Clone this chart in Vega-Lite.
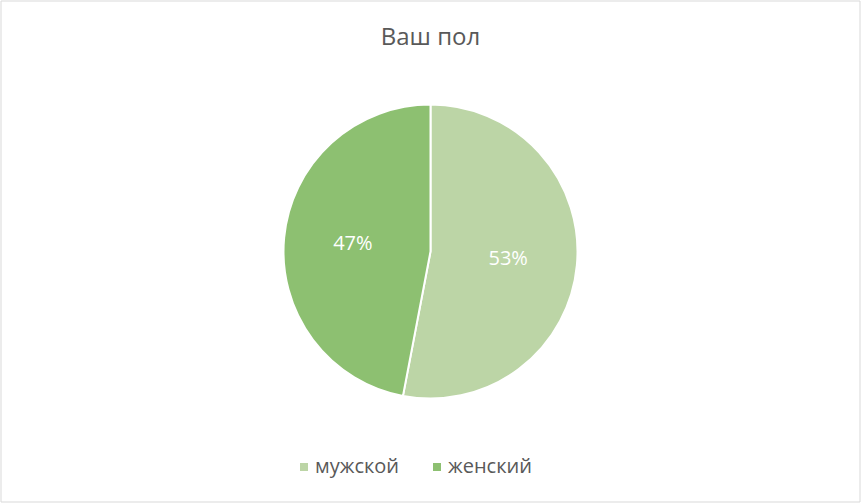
{
  "$schema": "https://vega.github.io/schema/vega-lite/v6.json",
  "width": 861,
  "height": 503,
  "padding": 0,
  "autosize": {"type": "fit", "contains": "padding"},
  "background": "white",
  "title": {
    "text": "Ваш пол",
    "orient": "top",
    "anchor": "middle",
    "offset": -46,
    "dy": 22,
    "baseline": "alphabetic",
    "fontSize": 24,
    "font": "Open Sans",
    "fontWeight": "normal",
    "color": "#595959"
  },
  "data": {
    "values": [
      {"sex": "мужской", "pct": 53, "label": "53%"},
      {"sex": "женский", "pct": 47, "label": "47%"}
    ]
  },
  "layer": [
    {
      "data": {"values": [{}]},
      "mark": {"type": "rect", "fill": null, "stroke": "#d9d9d9", "strokeWidth": 1},
      "encoding": {}
    },
    {
      "mark": {"type": "arc", "outerRadius": 147, "stroke": "white", "strokeWidth": 2},
      "encoding": {
        "theta": {"field": "pct", "type": "quantitative", "stack": true},
        "order": {"field": "pct", "sort": "descending"},
        "color": {
          "field": "sex",
          "type": "nominal",
          "sort": ["мужской", "женский"],
          "scale": {"domain": ["мужской", "женский"], "range": ["#bcd5a6", "#8dc071"]},
          "legend": {
            "title": null,
            "orient": "none",
            "direction": "horizontal",
            "legendX": 293,
            "legendY": 456,
            "symbolType": "square",
            "symbolSize": 64,
            "symbolStrokeWidth": 0,
            "labelFontSize": 20,
            "labelFont": "Open Sans",
            "labelColor": "#595959",
            "columnPadding": 27,
            "labelOffset": 1
          }
        }
      }
    },
    {
      "mark": {"type": "text", "radius": 78, "fontSize": 20, "font": "Open Sans", "color": "white"},
      "encoding": {
        "theta": {"field": "pct", "type": "quantitative", "stack": true},
        "order": {"field": "pct", "sort": "descending"},
        "text": {"field": "label"}
      }
    }
  ]
}
